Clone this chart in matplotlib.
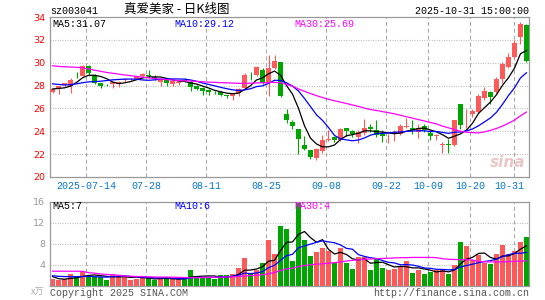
import pandas as pd
import matplotlib
matplotlib.use('Agg')
import matplotlib.pyplot as plt

plt.rcParams['font.family'] = ['Liberation Mono', 'Noto Sans CJK SC', 'DejaVu Sans']

# trading days 2025-07-04 .. 2025-10-31 (National Day break removed)
days = pd.bdate_range('2025-07-04', '2025-10-31')
days = days[(days < '2025-10-01') | (days > '2025-10-08')]

opens = [27.45, 27.72, 28.05, 27.95, 29.02, 28.85, 29.72, 28.93, 28.2, 28.08,
         28.1, 28.12, 28.45, 28.55, 28.6, 28.8, 28.93, 28.72, 28.35, 28.5,
         28.1, 28.2, 28.45, 28.3, 28.0, 27.8, 27.58, 27.45, 27.47, 27.15,
         27.05, 27.32, 27.76, 28.95, 28.89, 29.39, 28.22, 29.53, 30.02, 25.53,
         24.85, 24.18, 22.8, 22.37, 21.64, 22.31, 23.28, 23.48, 23.25, 24.27,
         24.04, 23.48, 23.83, 24.39, 24.09, 23.8, 23.55, 23.88, 23.8, 24.4,
         24.3, 23.95, 24.47, 23.89, 23.6, 22.83, 22.92, 22.78, 26.37, 25.3,
         25.47, 25.7, 26.87, 27.46, 27.46, 28.57, 29.59, 30.53, 32.22, 33.33]
highs = [27.75, 28.0, 28.25, 28.7, 29.15, 29.78, 29.78, 29.02, 28.25, 28.15,
         28.35, 28.38, 28.6, 28.62, 28.88, 29.1, 29.35, 28.95, 28.6, 28.55,
         28.5, 28.4, 28.65, 28.45, 28.05, 27.85, 27.7, 27.55, 27.5, 27.2,
         27.38, 27.76, 29.08, 29.2, 29.68, 29.5, 30.7, 30.7, 30.05, 25.96,
         25.0, 24.2, 23.55, 22.4, 22.5, 23.68, 24.12, 23.6, 24.28, 24.3,
         24.15, 24.12, 25.1, 24.62, 24.97, 24.1, 23.8, 24.1, 24.62, 25.17,
         24.97, 24.68, 24.62, 24.1, 23.8, 23.07, 23.36, 25.03, 26.4, 25.99,
         25.99, 27.25, 27.9, 27.5, 28.77, 30.09, 30.82, 31.99, 33.58, 33.4]
lows = [27.35, 27.3, 27.9, 27.35, 28.65, 28.8, 28.85, 28.1, 27.82, 27.95,
        27.8, 27.9, 28.35, 28.5, 28.55, 28.72, 28.65, 28.45, 27.95, 27.95,
        28.0, 28.05, 28.35, 27.5, 27.6, 27.2, 27.2, 27.25, 27.1, 26.95,
        26.72, 27.05, 27.67, 28.5, 28.8, 28.1, 27.1, 29.45, 27.0, 24.76,
        24.18, 22.0, 22.35, 21.58, 21.5, 22.1, 23.15, 23.1, 23.15, 23.6,
        23.5, 23.0, 23.7, 23.95, 23.5, 23.07, 22.98, 23.16, 23.71, 24.3,
        23.8, 23.45, 23.95, 23.27, 23.27, 22.14, 22.14, 22.7, 24.24, 24.3,
        25.26, 25.56, 26.72, 26.37, 27.31, 28.2, 29.5, 30.44, 31.6, 30.05]
closes = [27.68, 27.98, 28.2, 28.5, 28.98, 29.72, 29.08, 28.2, 28.0, 28.03,
          28.28, 28.32, 28.55, 28.58, 28.8, 29.05, 28.8, 28.55, 28.55, 28.2,
          28.38, 28.3, 28.42, 27.85, 27.7, 27.55, 27.45, 27.4, 27.2, 27.08,
          27.32, 27.7, 28.93, 28.9, 29.59, 28.22, 29.53, 30.11, 27.12, 25.0,
          24.5, 23.33, 22.43, 21.75, 22.43, 23.25, 23.36, 23.2, 24.18, 24.04,
          23.77, 23.95, 24.27, 24.18, 23.66, 23.6, 23.6, 23.93, 24.44, 24.46,
          24.1, 24.3, 24.1, 23.57, 23.66, 22.86, 22.78, 24.97, 24.59, 25.35,
          25.79, 27.1, 27.54, 27.02, 28.57, 29.85, 30.47, 31.7, 33.35, 30.11]

ma5 = [27.7, 27.75, 27.8, 27.95, 28.27, 28.68, 28.90, 28.90, 28.80, 28.61,
       28.32, 28.17, 28.24, 28.35, 28.51, 28.66, 28.76, 28.76, 28.75, 28.63,
       28.50, 28.40, 28.37, 28.23, 28.13, 27.96, 27.79, 27.59, 27.46, 27.34,
       27.29, 27.34, 27.65, 27.99, 28.49, 28.67, 29.03, 29.27, 28.91, 28.00,
       27.25, 26.01, 24.48, 23.40, 22.89, 22.64, 22.64, 22.80, 23.28, 23.61,
       23.71, 23.83, 24.04, 24.04, 23.97, 23.93, 23.86, 23.79, 23.85, 24.01,
       24.11, 24.25, 24.28, 24.11, 23.95, 23.70, 23.39, 23.57, 23.77, 24.11,
       24.70, 25.56, 26.07, 26.56, 27.20, 28.02, 28.69, 29.52, 30.79, 31.07]
ma10 = [28.15, 28.1, 28.05, 28.08, 28.15, 28.25, 28.32, 28.35, 28.38, 28.44,
        28.50, 28.53, 28.57, 28.57, 28.56, 28.49, 28.46, 28.50, 28.55, 28.57,
        28.58, 28.58, 28.56, 28.49, 28.38, 28.23, 28.10, 27.98, 27.85, 27.73,
        27.63, 27.57, 27.62, 27.72, 27.91, 27.98, 28.19, 28.46, 28.45, 28.24,
        27.96, 27.52, 26.87, 26.16, 25.44, 24.95, 24.33, 23.64, 23.34, 23.25,
        23.17, 23.24, 23.42, 23.66, 23.79, 23.82, 23.85, 23.92, 23.94, 23.99,
        24.02, 24.05, 24.04, 23.98, 23.98, 23.90, 23.82, 23.92, 23.94, 24.03,
        24.20, 24.48, 24.82, 25.17, 25.66, 26.36, 27.13, 27.80, 28.67, 29.12]
ma30 = [29.73, 29.68, 29.65, 29.62, 29.6, 29.55, 29.45, 29.35, 29.25, 29.15,
        29.08, 29.0, 28.93, 28.87, 28.8, 28.74, 28.68, 28.62, 28.57, 28.52,
        28.48, 28.45, 28.42, 28.4, 28.37, 28.33, 28.3, 28.28, 28.26, 28.24,
        28.22, 28.2, 28.2, 28.21, 28.23, 28.24, 28.26, 28.28, 28.25, 28.1,
        27.95, 27.7, 27.5, 27.3, 27.12, 26.95, 26.8, 26.67, 26.55, 26.43,
        26.3, 26.18, 26.03, 25.9, 25.82, 25.72, 25.63, 25.53, 25.4, 25.27,
        25.15, 25.02, 24.9, 24.77, 24.65, 24.45, 24.3, 24.15, 24.0, 23.92,
        23.88, 23.86, 23.95, 24.08, 24.25, 24.45, 24.7, 24.98, 25.35, 25.69]

# volume, unit: 10k lots
volume = [1.16, 1.03, 1.16, 2.26, 1.68, 2.58, 1.87, 1.68, 1.61, 0.97,
          2.13, 1.81, 1.81, 1.03, 1.29, 1.48, 1.48, 0.97, 1.35, 1.48,
          1.16, 1.16, 1.35, 2.97, 1.87, 1.55, 1.35, 1.29, 1.94, 1.94,
          2.13, 3.29, 5.23, 2.13, 2.97, 4.26, 8.58, 6.0, 11.4, 10.8,
          4.7, 15.8, 8.7, 5.6, 6.4, 7.2, 6.5, 4.3, 7.2, 4.3,
          3.1, 5.4, 5.4, 3.0, 5.0, 3.4, 3.0, 3.2, 3.6, 4.7,
          2.3, 3.0, 2.1, 2.5, 3.0, 3.2, 2.2, 3.9, 8.3, 7.5,
          4.9, 5.9, 4.3, 4.1, 6.0, 7.8, 6.0, 6.6, 8.2, 9.3]
vol_ma5 = [1.7, 1.3, 1.2, 1.35, 1.46, 1.74, 1.91, 2.01, 1.88, 1.74,
           1.65, 1.64, 1.67, 1.55, 1.61, 1.48, 1.42, 1.25, 1.31, 1.35,
           1.29, 1.22, 1.30, 1.62, 1.70, 1.78, 1.82, 1.81, 1.60, 1.61,
           1.73, 2.12, 2.91, 2.94, 3.15, 3.58, 4.63, 4.79, 6.64, 8.21,
           8.30, 9.74, 10.28, 9.12, 8.24, 8.74, 6.88, 6.00, 6.32, 5.90,
           5.08, 4.86, 5.08, 4.24, 4.38, 4.44, 3.96, 3.52, 3.64, 3.58,
           3.36, 3.36, 3.14, 2.92, 2.58, 2.76, 2.60, 2.96, 4.12, 5.02,
           5.36, 6.10, 6.18, 5.34, 5.04, 5.62, 5.64, 6.10, 6.92, 7.58]
vol_ma10 = [1.85, 1.75, 1.7, 1.68, 1.68, 1.7, 1.72, 1.68, 1.62, 1.60,
            1.70, 1.78, 1.84, 1.72, 1.68, 1.57, 1.53, 1.46, 1.43, 1.48,
            1.39, 1.32, 1.28, 1.47, 1.53, 1.53, 1.52, 1.55, 1.61, 1.66,
            1.76, 1.97, 2.36, 2.27, 2.38, 2.65, 3.38, 3.85, 4.79, 5.68,
            5.94, 7.19, 7.53, 7.88, 8.22, 8.52, 8.31, 8.14, 7.72, 7.07,
            6.91, 5.87, 5.54, 5.28, 5.14, 4.76, 4.41, 4.30, 3.94, 3.98,
            3.90, 3.66, 3.33, 3.28, 3.08, 3.06, 2.98, 3.05, 3.52, 3.80,
            4.06, 4.35, 4.57, 4.73, 5.03, 5.49, 5.87, 6.14, 6.13, 6.31]
vol_ma30 = [2.72, 2.72, 2.72, 2.72, 2.72, 2.7, 2.45, 2.35, 2.2, 2.1,
            2.05, 1.95, 1.8, 1.75, 1.72, 1.7, 1.65, 1.62, 1.6, 1.6,
            1.58, 1.55, 1.52, 1.5, 1.5, 1.52, 1.55, 1.58, 1.6, 1.62,
            1.65, 1.72, 1.82, 1.88, 1.95, 2.05, 2.25, 2.45, 2.85, 3.15,
            3.3, 3.6, 3.8, 3.95, 4.05, 4.15, 4.25, 4.35, 4.5, 4.65,
            4.8, 4.9, 5.0, 5.05, 5.1, 5.15, 5.2, 5.25, 5.3, 5.3,
            5.35, 5.35, 5.35, 5.35, 5.3, 5.1, 5.0, 4.95, 4.9, 4.9,
            4.85, 4.6, 4.5, 4.5, 4.5, 4.5, 4.55, 4.6, 4.65, 4.7]

label_dates = ['2025-07-14', '2025-07-28', '2025-08-11', '2025-08-25', '2025-09-08',
               '2025-09-22', '2025-10-09', '2025-10-20', '2025-10-31']
price_ticks = [20, 22, 24, 26, 28, 30, 32, 34]
vol_ticks = [4, 8, 12, 16]

RED = '#ff5a5a'
GREEN = '#00a600'
GRID = '#aaaaaa'
EDGE = '#999999'

W, H = 545, 300
fig = plt.figure(figsize=(W / 100, H / 100), dpi=100)


def box(l, t, r, b):
    return [l / W, 1 - b / H, (r - l) / W, (b - t) / H]


ax = fig.add_axes(box(50, 17, 529, 177))
axv = fig.add_axes(box(50, 201.5, 529, 285.5))

n = len(closes)
xs = list(range(n))
up = [c >= o for o, c in zip(opens, closes)]
colors = [RED if u else GREEN for u in up]

for a in (ax, axv):
    a.set_xlim(-0.42, n - 0.58)
    for s in a.spines.values():
        s.set_color(EDGE)
        s.set_linewidth(0.9)
    a.set_xticks([])
    a.tick_params(axis='y', length=0, pad=3.5, labelsize=6.8)

# vertical grid positions (left edge of the labelled candle, kept inside the plot)
idx = [days.get_loc(pd.Timestamp(d)) for d in label_dates]
grid_x = [min(i - 0.42, n - 3.08) for i in idx]
for a in (ax, axv):
    for gx in grid_x:
        a.axvline(gx, color=GRID, lw=0.8, ls=(0, (3.6, 2.6)), zorder=0)

# price panel
ax.set_ylim(20, 34)
ax.set_yticks(price_ticks)
ax.set_yticklabels([str(t) for t in price_ticks], color='red', family='DejaVu Sans')
for t in price_ticks[1:-1]:
    ax.axhline(t, color=GRID, lw=0.8, ls=(0, (0.7, 1.5)), zorder=0)

ax.vlines(xs, lows, highs, colors=colors, lw=0.8, zorder=2)
bottoms = [min(o, c) for o, c in zip(opens, closes)]
heights = [max(abs(c - o), 0.05) for o, c in zip(opens, closes)]
ax.bar(xs, heights, bottom=bottoms, width=0.76, color=colors, lw=0, zorder=3)

ax.plot(xs, ma5, color='black', lw=0.9, zorder=4)
ax.plot(xs, ma10, color='#0000ff', lw=0.9, zorder=4)
ax.plot(xs, ma30, color='#ff00ff', lw=0.9, zorder=4)

ax.text(2.3 / 479, 0.955, 'MA5:%.2f' % ma5[-1], transform=ax.transAxes, fontsize=7.2, color='black', va='center')
ax.text(124 / 479, 0.955, 'MA10:%.2f' % ma10[-1], transform=ax.transAxes, fontsize=7.2, color='#0000ff', va='center')
ax.text(244 / 479, 0.955, 'MA30:%.2f' % ma30[-1], transform=ax.transAxes, fontsize=7.2, color='#ff00ff', va='center')
ax.text(0.955, 0.09, 'sina', transform=ax.transAxes, fontsize=11, color='#e6b8b8', alpha=0.8,
        style='italic', weight='bold', family='DejaVu Sans', ha='center', va='center')

# date labels under the price panel
for k, (i, d) in enumerate(zip(idx, label_dates)):
    txt = d if k == 0 else d[5:]
    ha = 'right' if k == len(idx) - 1 else 'center'
    ax.text(i - 0.42, -0.055, txt, transform=ax.get_xaxis_transform(), fontsize=7.2,
            color='#0a78d0', ha=ha, va='center')

# volume panel
axv.set_ylim(0, 16)
axv.set_yticks(vol_ticks)
axv.set_yticklabels([str(t) for t in vol_ticks], color='#999999', family='DejaVu Sans')
for t in vol_ticks[:-1]:
    axv.axhline(t, color=GRID, lw=0.8, ls=(0, (0.7, 1.5)), zorder=0)
axv.bar(xs, volume, width=0.8, color=colors, lw=0, zorder=2)
axv.plot(xs, vol_ma5, color='black', lw=0.9, zorder=4)
axv.plot(xs, vol_ma10, color='#0000ff', lw=0.9, zorder=4)
axv.plot(xs, vol_ma30, color='#ff00ff', lw=0.9, zorder=4)
axv.text(2.3 / 479, 0.95, 'MA5:%d' % int(vol_ma5[-1]), transform=axv.transAxes, fontsize=7.2, color='black', va='center')
axv.text(124 / 479, 0.95, 'MA10:%d' % int(vol_ma10[-1]), transform=axv.transAxes, fontsize=7.2, color='#0000ff', va='center')
axv.text(244 / 479, 0.95, 'MA30:%d' % int(vol_ma30[-1]), transform=axv.transAxes, fontsize=7.2, color='#ff00ff', va='center', zorder=5)

# header and footer
fig.text(50 / W, 1 - 11.5 / H, 'sz003041', fontsize=7.2, ha='left', va='center')
fig.text(177 / W, 1 - 9.5 / H, '真爱美家 - 日K线图', family=['Noto Sans CJK SC', 'DejaVu Sans'],
         fontsize=9, ha='center', va='center')
fig.text(529 / W, 1 - 11.5 / H, '2025-10-31 15:00:00', fontsize=7.2, ha='right', va='center')
fig.text(44 / W, 1 - 292 / H, 'x万', family=['Noto Sans CJK SC', 'DejaVu Sans'], fontsize=6.5,
         color='#aaaaaa', ha='right', va='center')
fig.text(50 / W, 1 - 292.5 / H, 'Copyright 2025 SINA.COM', fontsize=7.2, color='#555555', ha='left', va='center')
fig.text(529 / W, 1 - 292.5 / H, 'http://finance.sina.com.cn', fontsize=7.2, color='#555555', ha='right', va='center')

fig.savefig('out.png', dpi=100)
